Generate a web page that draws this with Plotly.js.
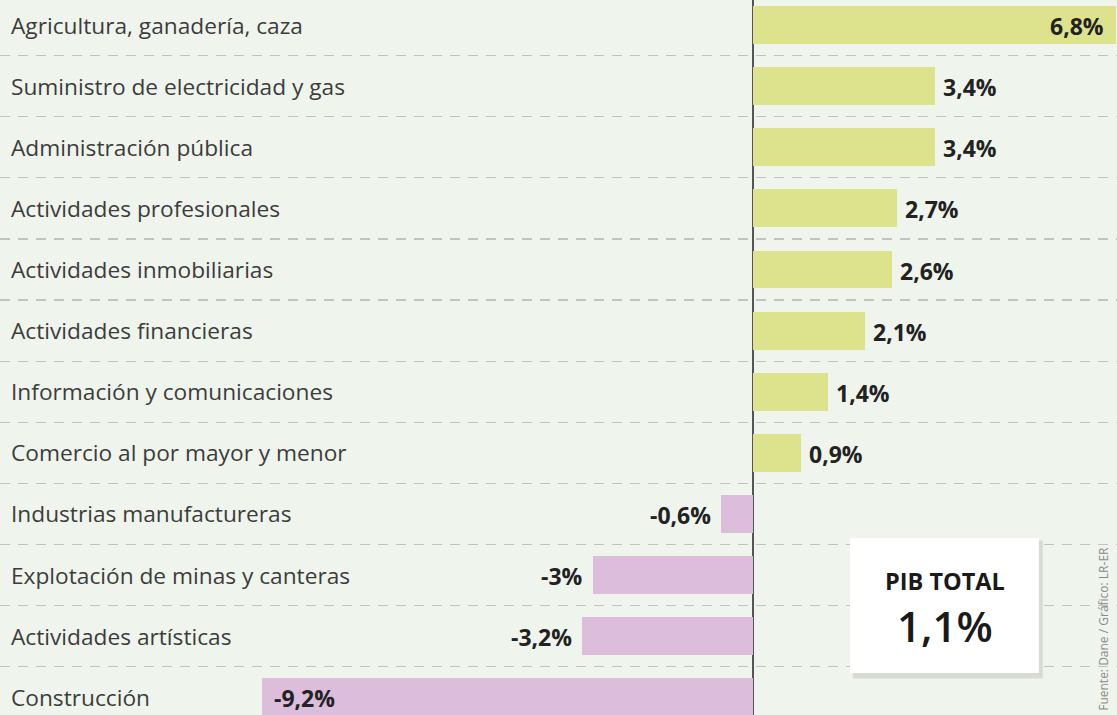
<!DOCTYPE html>
<html>
<head>
<meta charset="utf-8">
<script src="https://cdn.plot.ly/plotly-3.0.1.min.js"></script>
<style>
html,body{margin:0;padding:0;background:#eff5ec;}
#chart{width:1117px;height:715px;}
</style>
</head>
<body>
<div id="chart"></div>
<script>
const categories = [
  "Agricultura, ganadería, caza",
  "Suministro de electricidad y gas",
  "Administración pública",
  "Actividades profesionales",
  "Actividades inmobiliarias",
  "Actividades financieras",
  "Información y comunicaciones",
  "Comercio al por mayor y menor",
  "Industrias manufactureras",
  "Explotación de minas y canteras",
  "Actividades artísticas",
  "Construcción"
];
const values = [6.8, 3.4, 3.4, 2.7, 2.6, 2.1, 1.4, 0.9, -0.6, -3.0, -3.2, -9.2];
const valueLabels = ["6,8%", "3,4%", "3,4%", "2,7%", "2,6%", "2,1%", "1,4%", "0,9%", "-0,6%", "-3%", "-3,2%", "-9,2%"];
const totalLabel = "PIB TOTAL";
const totalValue = "1,1%";
const sourceText = "Fuente: Dane / Gráfico: LR-ER";

const posColor = "#dde38c";
const negColor = "#dcbddc";
const font = "'Open Sans', 'Noto Sans', sans-serif";

const trace = {
  type: "bar",
  orientation: "h",
  y: categories,
  x: values,
  width: 0.62,
  marker: {color: values.map(v => v >= 0 ? posColor : negColor), line: {width: 0}},
  hoverinfo: "skip"
};

const annotations = [];
categories.forEach((c, i) => {
  annotations.push({
    xref: "paper", yref: "y", x: 0.008, y: c, xanchor: "left", yanchor: "middle",
    text: c, showarrow: false,
    font: {family: font, size: 22.7, color: "#3c3c3c"}
  });
  const v = values[i];
  const inside = Math.abs(v) > 6;
  let xanchor, xshift;
  if (v >= 0) { xanchor = inside ? "right" : "left"; xshift = inside ? -10 : 6; }
  else { xanchor = inside ? "left" : "right"; xshift = inside ? 10 : -8; }
  annotations.push({
    xref: "x", yref: "y", x: v, y: c, xanchor: xanchor, yanchor: "middle", xshift: xshift, yshift: -1,
    text: "<b>" + valueLabels[i] + "</b>", showarrow: false,
    font: {family: font, size: 23, color: "#222"}
  });
});
annotations.push({
  xref: "paper", yref: "paper", x: 0.8456, y: 0.188, xanchor: "center", yanchor: "middle",
  text: totalLabel, showarrow: false,
  font: {family: font, size: 23.5, color: "#1a1a1a", weight: 700}
});
annotations.push({
  xref: "paper", yref: "paper", x: 0.8456, y: 0.125, xanchor: "center", yanchor: "middle",
  text: totalValue, showarrow: false,
  font: {family: font, size: 42, color: "#1a1a1a", weight: 600}
});
annotations.push({
  xref: "paper", yref: "paper", x: 0.988, y: 0.12, xanchor: "center", yanchor: "middle",
  text: sourceText, textangle: -90, showarrow: false,
  font: {family: font, size: 12, color: "#8a8a8a"}
});

const layout = {
  width: 1117, height: 715,
  margin: {l: 0, r: 0, t: 0, b: 0},
  paper_bgcolor: "#eff5ec",
  plot_bgcolor: "#eff5ec",
  showlegend: false,
  bargap: 0,
  xaxis: {
    range: [-14.1, 6.81],
    showgrid: false, showticklabels: false, ticks: "",
    zeroline: true, zerolinecolor: "#555", zerolinewidth: 1.5,
    fixedrange: true
  },
  yaxis: {
    type: "category",
    range: [11.29, -0.41],
    tickson: "boundaries",
    showgrid: true, gridcolor: "#c0c4c0", gridwidth: 1.3, griddash: "10px,8px",
    showticklabels: false, ticks: "", zeroline: false, fixedrange: true
  },
  shapes: [
    {type: "rect", xref: "paper", yref: "paper", x0: 0.7635, x1: 0.9335, y0: 0.051, y1: 0.244,
     fillcolor: "rgba(0,0,0,0.10)", line: {width: 0}, layer: "above"},
    {type: "rect", xref: "paper", yref: "paper", x0: 0.761, x1: 0.930, y0: 0.0587, y1: 0.2476,
     fillcolor: "#ffffff", line: {width: 0}, layer: "above"}
  ],
  annotations: annotations
};

Plotly.newPlot("chart", [trace], layout, {displayModeBar: false, staticPlot: true});
</script>
</body>
</html>
